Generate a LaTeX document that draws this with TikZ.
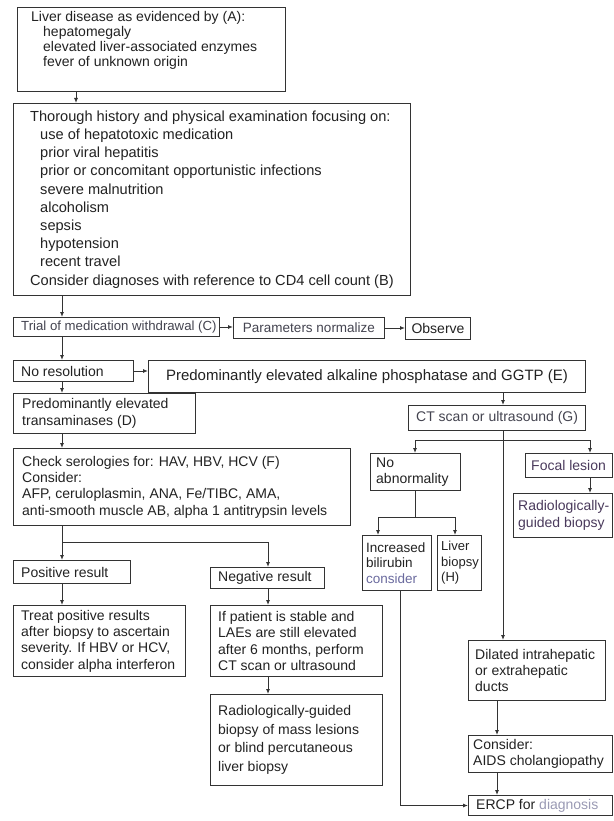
\documentclass[tikz,border=0pt]{standalone}
\usepackage{fontspec}
\setmainfont{Liberation Sans}
\usetikzlibrary{arrows.meta,calc}
\definecolor{ink}{HTML}{222222}
\definecolor{linec}{HTML}{333333}
\definecolor{bluish}{HTML}{6A6A9E}
\definecolor{paleblue}{HTML}{9A9AB4}
\definecolor{plum}{HTML}{4A3A5C}
\definecolor{grayink}{HTML}{444450}
\def\bxpad{8}
% box with left-aligned text
\newcommand\bx[7][]{%
 \pgfmathsetmacro\bxw{#5-#3}%
 \pgfmathsetmacro\bxh{#6-#4}%
 \node[box,anchor=north west,minimum width=\bxw pt,minimum height=\bxh pt] (#2) at (#3,#4) {};
 \node[txtn,anchor=west,#1] (#2t) at ([xshift=\bxpad pt]#2.west) {#7};}
% box with centred text
\newcommand\bxc[7][]{%
 \pgfmathsetmacro\bxw{#5-#3}%
 \pgfmathsetmacro\bxh{#6-#4}%
 \node[box,anchor=north west,minimum width=\bxw pt,minimum height=\bxh pt] (#2) at (#3,#4) {};
 \node[txtn,anchor=center,#1] (#2t) at (#2.center) {#7};}
\begin{document}
\begin{tikzpicture}[x=1pt,y=-1pt,
 box/.style={draw=linec,line width=1pt,inner sep=0pt},
 txtn/.style={inner sep=0pt,align=left,text=ink,font=\fontsize{14}{16.3}\selectfont},
 arr/.style={draw=linec,line width=0.9pt,-{Latex[length=5pt,width=4pt]}},
 ln/.style={draw=linec,line width=0.9pt}]
\fill[white] (0,0) rectangle (613,821);
\useasboundingbox (0,0) rectangle (613,821);
% boxes
\bx{A}{17}{7}{285}{91}{}
\node[txtn,anchor=north west,font=\fontsize{14}{15}\selectfont] (tA) at (31,11) {Liver disease as evidenced by (A):\\
\hspace*{12pt}hepatomegaly\\
\hspace*{12pt}elevated liver-associated enzymes\\
\hspace*{12pt}fever of unknown origin};
\def\bxpad{17}
\bx[font=\fontsize{14.6}{18.2}\selectfont]{B}{13}{103}{410}{295}{Thorough history and physical examination focusing on:\\
\hspace*{10pt}use of hepatotoxic medication\\
\hspace*{10pt}prior viral hepatitis\\
\hspace*{10pt}prior or concomitant opportunistic infections\\
\hspace*{10pt}severe malnutrition\\
\hspace*{10pt}alcoholism\\
\hspace*{10pt}sepsis\\
\hspace*{10pt}hypotension\\
\hspace*{10pt}recent travel\\
Consider diagnoses with reference to CD4 cell count (B)}
\def\bxpad{8}
\bx[font=\fontsize{13.2}{16}\selectfont,text=grayink]{C}{13}{317}{219}{336}{Trial of medication withdrawal (C)}
\bxc[font=\fontsize{13.5}{16}\selectfont,text=grayink]{P}{233}{317}{384}{338}{Parameters normalize}
\bxc{O}{405}{317}{470}{339}{Observe}
\bx{N}{13}{360}{133}{381}{No resolution}
\bxc[font=\fontsize{15}{17}\selectfont]{E}{148}{360}{585}{392}{Predominantly elevated alkaline phosphatase and GGTP (E)}
\bx[xshift=1pt]{D}{13}{393}{195}{433}{Predominantly elevated\\transaminases (D)}
\bx[text=grayink]{G}{408}{405}{585}{430}{CT scan or ultrasound (G)}
\bx[xshift=1pt]{F}{13}{448}{350}{525}{Check serologies for: HAV, HBV, HCV (F)\\Consider:\\AFP, ceruloplasmin, ANA, Fe/TIBC, AMA,\\anti-smooth muscle AB, alpha 1 antitrypsin levels}
\bx{Pos}{13}{560}{130}{583}{Positive result}
\bx{Neg}{210}{567}{324}{588}{Negative result}
\bx{Tr}{13}{605}{185}{676}{Treat positive results\\after biopsy to ascertain\\severity. If HBV or HCV,\\consider alpha interferon}
\bx{IfP}{210}{605}{382}{676}{If patient is stable and\\LAEs are still elevated\\after 6 months, perform\\CT scan or ultrasound}
\bx[font=\fontsize{14}{18.5}\selectfont]{RGm}{210}{694}{382}{785}{Radiologically-guided\\biopsy of mass lesions\\or blind percutaneous\\liver biopsy}
\def\bxpad{6}
\bx{NA}{370}{453}{460}{490}{No\\abnormality}
\bx[text=plum]{Foc}{525}{453}{612}{477}{Focal lesion}
\def\bxpad{5}
\bx[text=plum]{RG2}{513}{493}{612}{537}{Radiologically-\\guided biopsy}
\def\bxpad{4}
\bx[font=\fontsize{13.5}{15.5}\selectfont]{IB}{362}{535}{431}{590}{Increased\\bilirubin\\\textcolor{bluish}{consider}}
\bx[font=\fontsize{13}{15.5}\selectfont]{LB}{437}{535}{481}{590}{Liver\\biopsy\\(H)}
\def\bxpad{7}
\bx{Dil}{468}{640}{605}{700}{Dilated intrahepatic\\or extrahepatic\\ducts}
\def\bxpad{5}
\bx{Con}{468}{735}{612}{772}{Consider:\\AIDS cholangiopathy}
\def\bxpad{8}
\bx{ER}{468}{795}{612}{815}{ERCP for \textcolor{paleblue}{diagnosis}}
% coordinates
\coordinate (xa) at (76,0);
\coordinate (cL) at (62,0);
\coordinate (cM) at (503,0);
\coordinate (cD) at (497,0);
\coordinate (bx) at (400,0);
\coordinate (jF) at (62,542);
\coordinate (jF2) at (268,542);
\coordinate (jGl) at (415,440);
\coordinate (jGr) at (590,440);
\coordinate (jN) at (415,517);
\coordinate (jNl) at (378,517);
\coordinate (jNr) at (455,517);
% connectors
\draw[arr] (A.south -| xa) -- (B.north -| xa);
\draw[arr] (B.south -| cL) -- (C.north -| cL);
\draw[arr] (C.east) -- (C.east -| P.west);
\draw[arr] (P.east) -- (P.east -| O.west);
\draw[arr] (C.south -| cL) -- (N.north -| cL);
\draw[arr] (N.east) -- (N.east -| E.west);
\draw[arr] (N.south -| cL) -- (D.north -| cL);
\draw[arr] (E.south -| cM) -- (G.north -| cM);
\draw[arr] (D.south -| cL) -- (F.north -| cL);
\draw[ln] (F.south -| cL) -- (jF);
\draw[arr] (jF) -- (Pos.north -| cL);
\draw[arr] (jF) -- (jF2) -- (Neg.north -| jF2);
\draw[arr] (Pos.south -| cL) -- (Tr.north -| cL);
\draw[arr] (Neg.south -| jF2) -- (IfP.north -| jF2);
\draw[arr] (IfP.south -| jF2) -- (RGm.north -| jF2);
\draw[arr] (G.south -| cM) -- (Dil.north -| cM);
\draw[ln] (jGl) -- (jGr);
\draw[arr] (jGl) -- (NA.north -| jGl);
\draw[arr] (jGr) -- (Foc.north -| jGr);
\draw[arr] (Foc.south -| jGr) -- (RG2.north -| jGr);
\draw[ln] (NA.south -| jN) -- (jN);
\draw[ln] (jNl) -- (jNr);
\draw[arr] (jNl) -- (IB.north -| jNl);
\draw[arr] (jNr) -- (LB.north -| jNr);
\draw[arr] (IB.south -| bx) |- (ER.west);
\draw[arr] (Dil.south -| cD) -- (Con.north -| cD);
\draw[arr] (Con.south -| cD) -- (ER.north -| cD);
\end{tikzpicture}
\end{document}
